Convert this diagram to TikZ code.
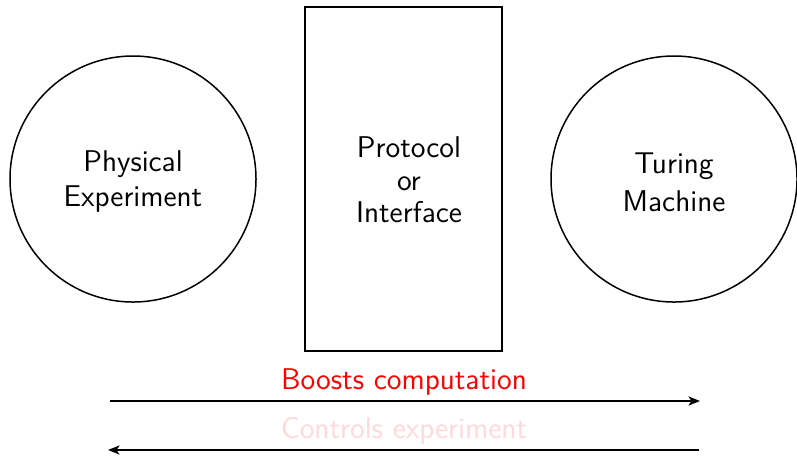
\documentclass[tikz,border=0pt]{standalone}
\usetikzlibrary{arrows.meta}
\begin{document}
\begin{tikzpicture}[x=0.4pt,y=-0.4pt,
  font=\sffamily\large,
  party/.style={draw,circle,line width=0.6pt,minimum size=98.4pt,inner sep=0pt},
  medium/.style={draw,rectangle,line width=0.7pt,minimum width=78.8pt,minimum height=137.6pt,inner sep=0pt},
  caption/.style={inner sep=0pt,align=center},
  flow/.style={line width=0.8pt,-{Stealth[length=4.6pt,width=3.6pt,inset=1.2pt]}},
  flowlabel/.style={inner sep=0pt}]
  \useasboundingbox (0,0) rectangle (797,455);
  % the two communicating parties and the layer between them
  \node[party] (exp) at (133,179) {};
  \node[medium] (iface) at (403.5,179) {};
  \node[party] (tm) at (674,179) {};
  \node[caption] (expText) at (133,181) {Physical\\Experiment};
  \node[caption] (ifaceText) at (409,180) {Protocol\\[-1pt]or\\[-1pt]Interface};
  \node[caption] (tmText) at (674,182) {Turing\\[1.2pt]Machine};
  % ends of the two arrows
  \coordinate (upL) at (110,401);
  \coordinate (upR) at (700,401);
  \coordinate (dnL) at (108,450);
  \coordinate (dnR) at (699,450);
  \draw[flow] (upL) -- (upR);
  \draw[flow] (dnR) -- (dnL);
  \node[flowlabel,text=red] (boost) at (404,382) {Boosts computation};
  \node[flowlabel,text=red!15] (ctrl) at (404,431) {Controls experiment};
\end{tikzpicture}
\end{document}
